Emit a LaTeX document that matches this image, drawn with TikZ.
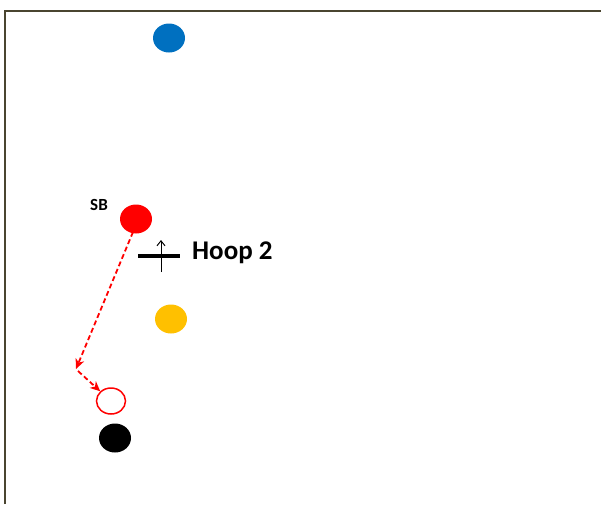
\documentclass[tikz,border=0pt]{standalone}
\usepackage{fontspec}
\setmainfont{Carlito}
\usetikzlibrary{arrows.meta,shapes.geometric}
\definecolor{frameC}{HTML}{4A4530}
\definecolor{blueC}{HTML}{0070C0}
\definecolor{yellowC}{HTML}{FFC000}
\begin{document}
\begin{tikzpicture}[x=1pt,y=-1pt,
  player/.style={ellipse, minimum width=32pt, minimum height=29pt, inner sep=0pt},
  runpath/.style={red, line width=1.8pt, dash pattern=on 5pt off 3pt, -{Stealth[length=10pt,width=9pt,inset=3pt]}}]
\useasboundingbox (0,0) rectangle (601,504);
\draw[frameC, line width=2pt] (4.5,504) -- (4.5,11) -- (601,11);
\node[player, fill=blueC] (blue) at (169,38) {};
\node[player, fill=red] (sb) at (136,219) {};
\node[font=\bfseries\fontsize{17}{19}\selectfont, anchor=center] (sblab) at (99,205) {SB};
\node[player, fill=yellowC] (yellow) at (171,319) {};
\node[player, draw=red, line width=1.5pt, minimum width=29pt, minimum height=26pt] (open) at (111,401) {};
\node[player, fill=black] (black) at (115,438) {};
\coordinate (hl) at (138,256);
\coordinate (hr) at (180,256);
\coordinate (hb) at (161,272);
\coordinate (ht) at (161,240);
\draw[line width=3.5pt] (hl) -- (hr);
\draw[line width=1pt, -{Straight Barb[length=5pt,width=8pt]}] (hb) -- (ht);
\node[font=\bfseries\fontsize{27}{30}\selectfont, anchor=west, inner sep=0pt] (hoop) at (192,253) {Hoop 2};
\coordinate (turn) at (76,369);
\coordinate (turn2) at (78,371);
\coordinate (sbs) at (133,232);
\draw[runpath] (sbs) -- (turn);
\draw[runpath] (turn2) -- (open.north west);
\end{tikzpicture}
\end{document}
